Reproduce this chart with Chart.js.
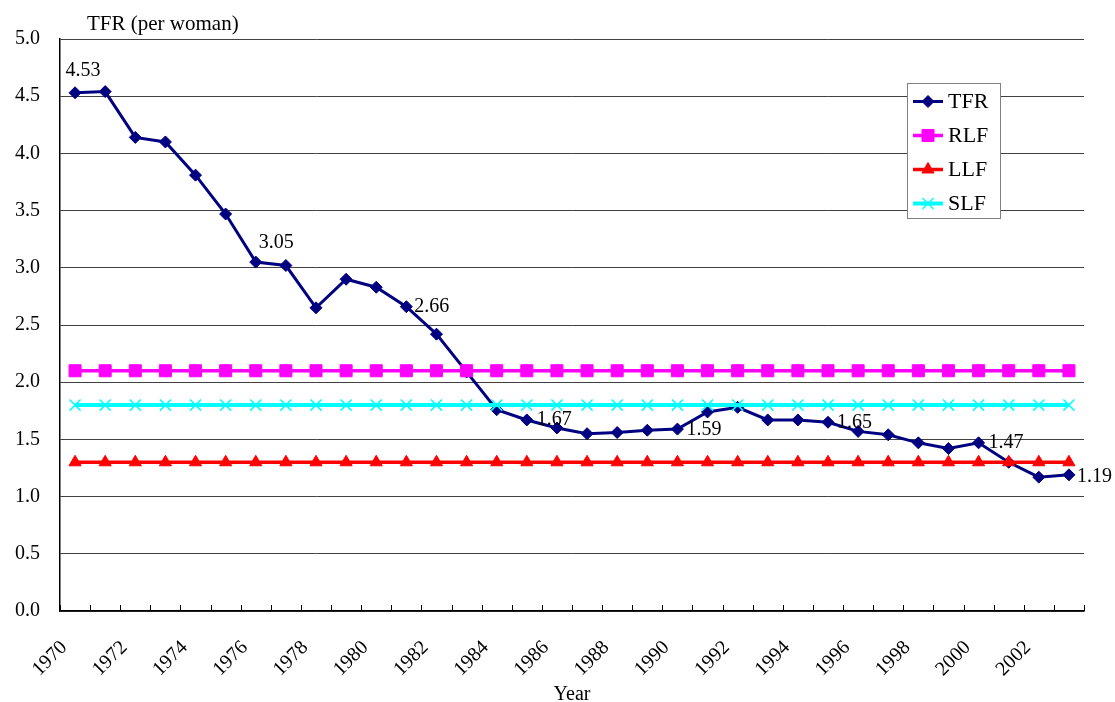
<!DOCTYPE html>
<html>
<head>
<meta charset="utf-8">
<script src="https://cdn.jsdelivr.net/npm/chart.js@4"></script>
<style>
  html, body { margin: 0; padding: 0; background: #ffffff; }
  #wrap { width: 1115px; height: 702px; position: relative; }
</style>
</head>
<body>
<div id="wrap"><canvas id="c"></canvas></div>
<script>
// Years on the category axis
const years = ['1970','1971','1972','1973','1974','1975','1976','1977','1978','1979',
               '1980','1981','1982','1983','1984','1985','1986','1987','1988','1989',
               '1990','1991','1992','1993','1994','1995','1996','1997','1998','1999',
               '2000','2001','2002','2003'];

// Total fertility rate (per woman)
const tfr = [4.53, 4.54, 4.14, 4.10, 3.81, 3.47, 3.05, 3.02, 2.65, 2.90,
             2.83, 2.66, 2.42, 2.09, 1.76, 1.67, 1.60, 1.55, 1.56, 1.58,
             1.59, 1.74, 1.78, 1.67, 1.67, 1.65, 1.57, 1.54, 1.47, 1.42,
             1.47, 1.30, 1.17, 1.19];

// Replacement, lowest and super-low fertility reference levels
const rlf = [2.1, 2.1, 2.1, 2.1, 2.1, 2.1, 2.1, 2.1, 2.1, 2.1,
             2.1, 2.1, 2.1, 2.1, 2.1, 2.1, 2.1, 2.1, 2.1, 2.1,
             2.1, 2.1, 2.1, 2.1, 2.1, 2.1, 2.1, 2.1, 2.1, 2.1,
             2.1, 2.1, 2.1, 2.1];
const llf = [1.3, 1.3, 1.3, 1.3, 1.3, 1.3, 1.3, 1.3, 1.3, 1.3,
             1.3, 1.3, 1.3, 1.3, 1.3, 1.3, 1.3, 1.3, 1.3, 1.3,
             1.3, 1.3, 1.3, 1.3, 1.3, 1.3, 1.3, 1.3, 1.3, 1.3,
             1.3, 1.3, 1.3, 1.3];
const slf = [1.8, 1.8, 1.8, 1.8, 1.8, 1.8, 1.8, 1.8, 1.8, 1.8,
             1.8, 1.8, 1.8, 1.8, 1.8, 1.8, 1.8, 1.8, 1.8, 1.8,
             1.8, 1.8, 1.8, 1.8, 1.8, 1.8, 1.8, 1.8, 1.8, 1.8,
             1.8, 1.8, 1.8, 1.8];

// Y-axis tick values
const yTicks = [0, 0.5, 1, 1.5, 2, 2.5, 3, 3.5, 4, 4.5, 5];

const SERIF = '"Liberation Serif", "Times New Roman", serif';

// Where the value labels on the TFR line sit, relative to their point
const labelSpots = {
  0:  { dx: 8,  dy: -22, align: 'center' },
  6:  { dx: 3,  dy: -19, align: 'left' },
  11: { dx: 8,  dy: 0,   align: 'left' },
  15: { dx: 10, dy: 0,   align: 'left' },
  20: { dx: 9,  dy: 1,   align: 'left' },
  25: { dx: 9,  dy: 1,   align: 'left' },
  30: { dx: 10, dy: 0,   align: 'left' },
  33: { dx: 8,  dy: 2,   align: 'left' }
};

// Small inward tick marks between year categories
const innerTicks = {
  id: 'innerTicks',
  afterDraw(chart) {
    const xs = chart.scales.x;
    const ctx = chart.ctx;
    ctx.save();
    ctx.strokeStyle = '#000';
    ctx.lineWidth = 1;
    for (let i = 0; i <= years.length; i++) {
      const x = Math.round(xs.getPixelForValue(i - 0.5)) + 0.5;
      ctx.beginPath();
      ctx.moveTo(x, xs.top);
      ctx.lineTo(x, xs.top - 6);
      ctx.stroke();
    }
    ctx.restore();
  }
};

// Value labels on selected TFR points
const valueLabels = {
  id: 'valueLabels',
  afterDatasetsDraw(chart) {
    const meta = chart.getDatasetMeta(0);
    const ctx = chart.ctx;
    ctx.save();
    ctx.fillStyle = '#000';
    ctx.font = '20px ' + SERIF;
    ctx.textBaseline = 'middle';
    Object.keys(labelSpots).forEach(k => {
      const i = +k;
      const s = labelSpots[k];
      const pt = meta.data[i];
      ctx.textAlign = s.align;
      ctx.fillText(tfr[i].toFixed(2), pt.x + s.dx, pt.y + s.dy);
    });
    ctx.restore();
  }
};

// Axis caption above the y axis
const yCaption = {
  id: 'yCaption',
  afterDraw(chart) {
    const ctx = chart.ctx;
    ctx.save();
    ctx.fillStyle = '#000';
    ctx.font = '21px ' + SERIF;
    ctx.textAlign = 'left';
    ctx.textBaseline = 'alphabetic';
    ctx.fillText('TFR (per woman)', 87, 30);
    ctx.restore();
  }
};

// Boxed legend inside the plot area
const boxLegend = {
  id: 'boxLegend',
  afterDraw(chart) {
    const ctx = chart.ctx;
    const bx = 907, by = 83, bw = 93, bh = 135;
    ctx.save();
    ctx.fillStyle = '#fff';
    ctx.fillRect(bx, by, bw, bh);
    ctx.strokeStyle = '#808080';
    ctx.lineWidth = 1;
    ctx.strokeRect(bx + 0.5, by + 0.5, bw, bh);
    chart.data.datasets.forEach((ds, i) => {
      const y = by + 18.5 + i * 34;
      ctx.strokeStyle = ds.borderColor;
      ctx.lineWidth = ds.borderWidth;
      ctx.beginPath();
      ctx.moveTo(913, y);
      ctx.lineTo(943, y);
      ctx.stroke();
      ctx.fillStyle = ds.pointBackgroundColor;
      ctx.strokeStyle = ds.pointBorderColor;
      ctx.lineWidth = ds.pointBorderWidth;
      Chart.helpers.drawPoint(ctx, {
        pointStyle: ds.pointStyle,
        radius: ds.pointRadius,
        rotation: 0,
        borderWidth: ds.pointBorderWidth
      }, 928, y);
      ctx.fillStyle = '#000';
      ctx.font = '22px ' + SERIF;
      ctx.textAlign = 'left';
      ctx.textBaseline = 'middle';
      ctx.fillText(ds.label, 948, y + 1);
    });
    ctx.restore();
  }
};

new Chart(document.getElementById('c'), {
  type: 'line',
  data: {
    labels: years,
    datasets: [
      {
        label: 'TFR', data: tfr, order: 1,
        borderColor: '#000080', borderWidth: 3,
        pointStyle: 'rectRot', pointRadius: 6,
        pointBackgroundColor: '#000080', pointBorderColor: '#000080', pointBorderWidth: 1
      },
      {
        label: 'RLF', data: rlf, order: 0,
        borderColor: '#FF00FF', borderWidth: 3.5,
        pointStyle: 'rect', pointRadius: 8.5,
        pointBackgroundColor: '#FF00FF', pointBorderColor: '#FF00FF', pointBorderWidth: 1
      },
      {
        label: 'LLF', data: llf, order: 0,
        borderColor: '#FF0000', borderWidth: 3.5,
        pointStyle: 'triangle', pointRadius: 7,
        pointBackgroundColor: '#FF0000', pointBorderColor: '#FF0000', pointBorderWidth: 1
      },
      {
        label: 'SLF', data: slf, order: 0,
        borderColor: '#00FFFF', borderWidth: 4,
        pointStyle: 'crossRot', pointRadius: 7.8,
        pointBackgroundColor: '#00FFFF', pointBorderColor: '#00FFFF', pointBorderWidth: 1.5
      }
    ]
  },
  options: {
    responsive: true,
    maintainAspectRatio: false,
    animation: false,
    devicePixelRatio: 1,
    layout: { padding: { top: 39, right: 31, left: 0, bottom: 0 } },
    elements: { line: { tension: 0 } },
    plugins: {
      legend: { display: false },
      title: { display: false },
      tooltip: { enabled: false }
    },
    scales: {
      x: {
        type: 'category',
        offset: true,
        grid: { display: true, offset: true, drawOnChartArea: false, drawTicks: false },
        border: { display: true, color: '#000', width: 1.5 },
        ticks: {
          autoSkip: false,
          minRotation: 45,
          maxRotation: 45,
          padding: 25,
          labelOffset: -11,
          color: '#000',
          font: { family: SERIF, size: 20 },
          callback: (v, i) => (i % 2 === 0 ? years[i] : '')
        },
        title: {
          display: true,
          text: 'Year',
          color: '#000',
          font: { family: SERIF, size: 20, lineHeight: 0.7 },
          padding: 0
        },
        afterFit(scale) { scale.height = 91; }
      },
      y: {
        min: 0,
        max: 5,
        afterBuildTicks(scale) { scale.ticks = yTicks.map(v => ({ value: v })); },
        grid: { color: '#404040', lineWidth: 1, drawTicks: false },
        border: { display: true, color: '#000', width: 1.5 },
        ticks: {
          padding: 20,
          color: '#000',
          font: { family: SERIF, size: 20 },
          callback: v => Number(v).toFixed(1)
        },
        afterFit(scale) { scale.width = 60; }
      }
    }
  },
  plugins: [innerTicks, valueLabels, yCaption, boxLegend]
});
</script>
</body>
</html>
